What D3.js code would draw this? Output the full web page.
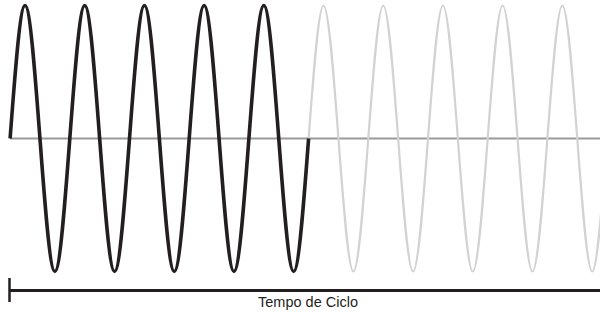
<!DOCTYPE html>
<html>
<head>
<meta charset="utf-8">
<script src="https://cdn.jsdelivr.net/npm/d3@7"></script>
<style>
  body { margin: 0; background: #fff; }
  svg { display: block; }
</style>
</head>
<body>
<svg id="chart" width="600" height="315"></svg>
<script>
// wave levels at every quarter period (1 = crest, -1 = trough)
const activeWave = [0, 1, 0, -1, 0, 1, 0, -1, 0, 1, 0, -1, 0, 1, 0, -1, 0, 1, 0, -1, 0];
const idleWave = [0, 1, 0, -1, 0, 1, 0, -1, 0, 1, 0, -1, 0, 1, 0, -1, 0, 1, 0, -1, 0];
const axisLabel = "Tempo de Ciclo";

const svg = d3.select('#chart');
const width = 600;

const quarters = activeWave.length - 1 + idleWave.length - 1;

let x = d3.scaleLinear()
  .domain([0, quarters])
  .range([10.1, 10.1 + 59.7 * quarters / 4]);

let y = d3.scaleLinear()
  .domain([-1, 1])
  .range([271.5, 5.5]);

let line = d3.line()
  .x(d => x(d.q))
  .y(d => y(d.v))
  .curve(d3.curveNatural);

const activePts = activeWave.map((v, i) => ({q: i, v: v}));
const offset = activeWave.length - 1;
const idlePts = idleWave.map((v, i) => ({q: offset + i, v: v}));

// centre line
svg.append('line')
  .attr('x1', x(0))
  .attr('x2', width)
  .attr('y1', y(0))
  .attr('y2', y(0))
  .attr('stroke', '#9a9a9a')
  .attr('stroke-width', 2);

svg.append('path')
  .attr('d', line(idlePts))
  .attr('fill', 'none')
  .attr('stroke', '#d2d2d2')
  .attr('stroke-width', 2.2)
  .attr('stroke-linejoin', 'round');

svg.append('path')
  .attr('d', line(activePts))
  .attr('fill', 'none')
  .attr('stroke', '#231f20')
  .attr('stroke-width', 3.6)
  .attr('stroke-linejoin', 'round');

// time bar
const barY = 290.5;
svg.append('line')
  .attr('x1', 9)
  .attr('x2', width)
  .attr('y1', barY)
  .attr('y2', barY)
  .attr('stroke', '#231f20')
  .attr('stroke-width', 3);

svg.append('line')
  .attr('x1', 9.5)
  .attr('x2', 9.5)
  .attr('y1', 278)
  .attr('y2', 302)
  .attr('stroke', '#231f20')
  .attr('stroke-width', 2.5);

svg.append('text')
  .attr('x', 308)
  .attr('y', 307)
  .attr('text-anchor', 'middle')
  .attr('font-family', 'Liberation Sans, Arial, sans-serif')
  .attr('font-size', 14.5)
  .attr('fill', '#231f20')
  .text(axisLabel);
</script>
</body>
</html>
